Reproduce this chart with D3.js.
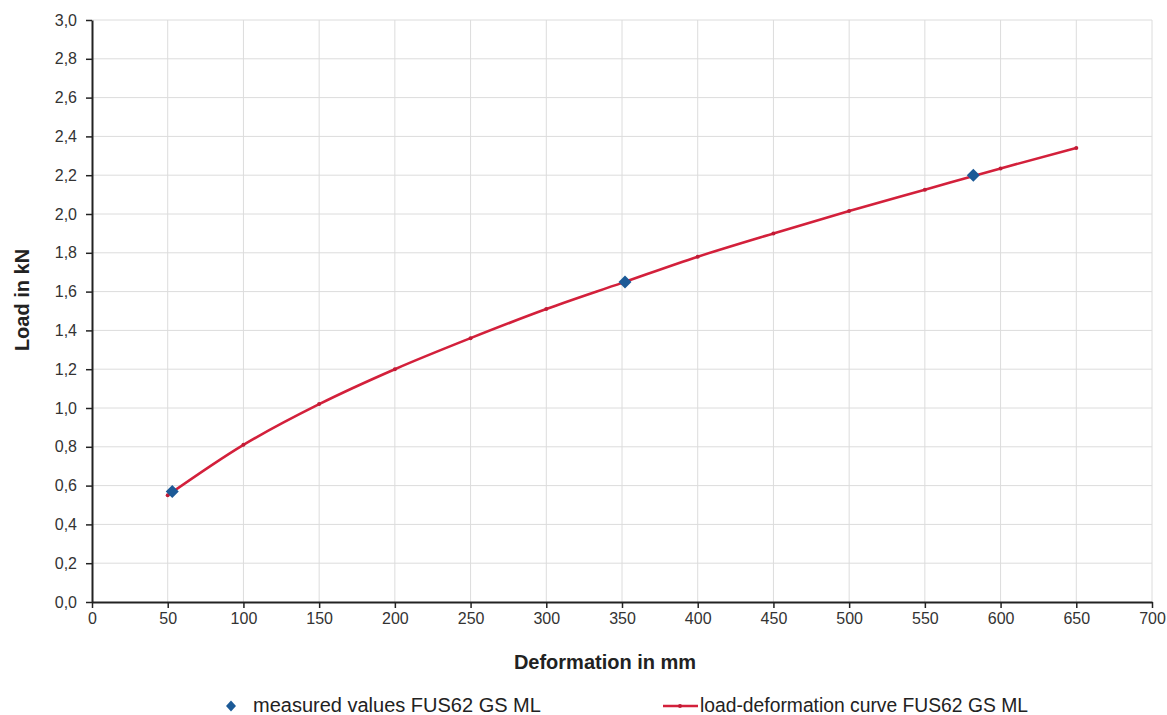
<!DOCTYPE html>
<html><head><meta charset="utf-8">
<script src="https://cdn.jsdelivr.net/npm/d3@7"></script>
<style>body{margin:0;background:#fff;} svg{display:block;font-family:"Liberation Sans",Arial,sans-serif;}</style>
</head><body>
<svg id="c" width="1167" height="715"></svg>
<script>
const curveX = [50,100,150,200,250,300,350,400,450,500,550,600,650];
const curveY = [0.55,0.81,1.02,1.20,1.36,1.51,1.645,1.78,1.90,2.015,2.125,2.235,2.34];
const measX = [53,352,582];
const measY = [0.57,1.65,2.20];
const xTicks = [0,50,100,150,200,250,300,350,400,450,500,550,600,650,700];
const yTicks = [0,0.2,0.4,0.6,0.8,1.0,1.2,1.4,1.6,1.8,2.0,2.2,2.4,2.6,2.8,3.0];
const seriesNames = ["measured values FUS62 GS ML","load-deformation curve FUS62 GS ML"];

const svg = d3.select("#c");
const x = d3.scaleLinear().domain([0,700]).range([92,1152]);
const y = d3.scaleLinear().domain([0,3]).range([602,20]);
const fmt = d => d.toFixed(1).replace(".", ",");

// grid
svg.append("g").selectAll("line").data(xTicks.slice(1)).join("line")
  .attr("x1",d=>x(d)).attr("x2",d=>x(d)).attr("y1",y(0)).attr("y2",y(3))
  .attr("stroke","#dcdcdc").attr("stroke-width",1);
svg.append("g").selectAll("line").data(yTicks.slice(1)).join("line")
  .attr("x1",x(0)).attr("x2",x(700)).attr("y1",d=>y(d)).attr("y2",d=>y(d))
  .attr("stroke","#dcdcdc").attr("stroke-width",1);

// axes
const xa = svg.append("g").attr("transform",`translate(0,${y(0)})`)
  .call(d3.axisBottom(x).tickValues(xTicks).tickSize(6).tickSizeOuter(0).tickPadding(5).tickFormat(d=>d));
const ya = svg.append("g").attr("transform",`translate(${x(0)},0)`)
  .call(d3.axisLeft(y).tickValues(yTicks).tickSize(6).tickSizeOuter(0).tickPadding(9).tickFormat(fmt));
[xa,ya].forEach(a=>{
  a.select(".domain").attr("stroke","#222").attr("stroke-width",2);
  a.selectAll(".tick line").attr("stroke","#222").attr("stroke-width",1.5);
  a.selectAll("text").attr("font-size",16).attr("fill","#333").attr("font-family","Liberation Sans, Arial, sans-serif");
});

// curve
const pts = curveX.map((d,i)=>[d,curveY[i]]);
svg.append("path").datum(pts)
  .attr("d", d3.line().x(d=>x(d[0])).y(d=>y(d[1])).curve(d3.curveMonotoneX))
  .attr("fill","none").attr("stroke","#d3203b").attr("stroke-width",2.6);
svg.append("g").selectAll("circle").data(pts).join("circle")
  .attr("cx",d=>x(d[0])).attr("cy",d=>y(d[1])).attr("r",2).attr("fill","#c01c36");

// measured diamonds
const mpts = measX.map((d,i)=>[d,measY[i]]);
svg.append("g").selectAll("path").data(mpts).join("path")
  .attr("transform",d=>`translate(${x(d[0])},${y(d[1])})`)
  .attr("d","M0,-6.5L6.5,0L0,6.5L-6.5,0Z").attr("fill","#1c5a97");

// titles
svg.append("text").attr("x",605).attr("y",669).attr("text-anchor","middle")
  .attr("font-size",20).attr("font-weight","bold").attr("fill","#222").text("Deformation in mm");
svg.append("text").attr("transform","translate(29,300) rotate(-90)").attr("text-anchor","middle")
  .attr("font-size",20).attr("font-weight","bold").attr("fill","#222").text("Load in kN");

// legend
svg.append("path").attr("transform","translate(231,706)").attr("d","M0,-5.5L5,0L0,5.5L-5,0Z").attr("fill","#1c5a97");
svg.append("text").attr("x",253).attr("y",712).attr("font-size",20).attr("fill","#222").text(seriesNames[0]);
svg.append("line").attr("x1",663).attr("x2",698).attr("y1",706).attr("y2",706).attr("stroke","#d3203b").attr("stroke-width",2.6);
svg.append("circle").attr("cx",680).attr("cy",706).attr("r",2).attr("fill","#c01c36");
svg.append("text").attr("x",700).attr("y",712).attr("font-size",19.3).attr("fill","#222").text(seriesNames[1]);
</script>
</body></html>
